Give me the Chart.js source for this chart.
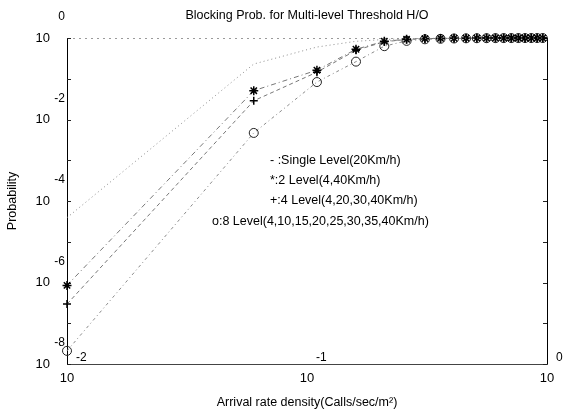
<!DOCTYPE html>
<html><head><meta charset="utf-8">
<script src="https://cdn.jsdelivr.net/npm/chart.js@4.4.0/dist/chart.umd.min.js"></script>
<style>html,body{margin:0;padding:0;background:#fff}#c{display:block}</style>
</head><body>
<canvas id="c" width="569" height="413"></canvas>
<script>
const arrivalRates = [0.01,0.06,0.11,0.16,0.21,0.26,0.31,0.36,0.41,0.46,0.51,0.56,0.61,0.66,0.71,0.76,0.81,0.86,0.91,0.96];
const singleLevel = [3.9e-5,0.23,0.60,0.83,0.92,0.96,0.977,0.986,0.990,0.993,0.995,0.996,0.997,0.998,0.998,0.999,0.999,0.999,0.999,0.999];
const twoLevel    = [8.5e-7,0.051,0.162,0.53,0.83,0.93,0.966,0.977,0.985,0.990,0.993,0.995,0.996,0.997,0.998,0.998,0.999,0.999,0.999,0.999];
const fourLevel   = [2.95e-7,0.0288,0.145,0.50,0.81,0.92,0.962,0.975,0.984,0.989,0.992,0.994,0.996,0.997,0.997,0.998,0.998,0.999,0.999,0.999];
const eightLevel  = [2.1e-8,0.00468,0.083,0.263,0.63,0.85,0.93,0.955,0.973,0.982,0.987,0.990,0.993,0.995,0.996,0.997,0.997,0.998,0.998,0.999];
const yTickValues = [1e-8,1e-6,1e-4,1e-2,1];
const yTickExponents = ['-8','-6','-4','-2','0'];
const yMinorTicks = [1e-7,1e-5,1e-3,1e-1];
const xTickValues = [0.01,0.1,1];
const xTickExponents = ['-2','-1','0'];
const seriesNames = ['Single Level(20Km/h)','2 Level(4,40Km/h)','4 Level(4,20,30,40Km/h)','8 Level(4,10,15,20,25,30,35,40Km/h)'];
const legendLines = ['- :Single Level(20Km/h)','*:2 Level(4,40Km/h)','+:4 Level(4,20,30,40Km/h)','o:8 Level(4,10,15,20,25,30,35,40Km/h)'];

const SANS = '"Liberation Sans",Arial,sans-serif';

const pts = arr => arrivalRates.map((x,i)=>({x:x,y:arr[i]}));

const decor = {
  id:'decor',
  beforeDatasetsDraw(chart){
    const ctx = chart.ctx, ca = chart.chartArea, ys = chart.scales.y;
    ctx.save();
    ctx.lineWidth = 1;
    ctx.strokeStyle = '#9a9a9a'; ctx.setLineDash([2,4]);
    ctx.beginPath(); ctx.moveTo(ca.left, ca.top+0.5); ctx.lineTo(ca.right, ca.top+0.5); ctx.stroke();
    ctx.strokeStyle = '#000'; ctx.setLineDash([]);
    ctx.beginPath(); ctx.moveTo(ca.right+0.5, ca.top); ctx.lineTo(ca.right+0.5, ca.bottom); ctx.stroke();
    ctx.strokeStyle = '#222';
    yTickValues.concat(yMinorTicks).forEach(v=>{
      const p = Math.round(ys.getPixelForValue(v))+0.5;
      ctx.beginPath(); ctx.moveTo(ca.left, p); ctx.lineTo(ca.left+4, p); ctx.stroke();
      ctx.beginPath(); ctx.moveTo(ca.right, p); ctx.lineTo(ca.right-4, p); ctx.stroke();
    });
    ctx.restore();
  },
  afterDraw(chart){
    const ctx = chart.ctx, ca = chart.chartArea, ys = chart.scales.y, xs = chart.scales.x;
    ctx.save();
    ctx.fillStyle = '#000';
    ctx.font = '12px ' + SANS;
    ctx.textBaseline = 'middle';
    ctx.textAlign = 'right';
    yTickValues.forEach((v,i)=>ctx.fillText(yTickExponents[i], ca.left-2, ys.getPixelForValue(v)-21));
    ctx.textAlign = 'left';
    xTickValues.forEach((v,i)=>ctx.fillText(xTickExponents[i], xs.getPixelForValue(v)+9, ca.bottom-6));
    ctx.font = '12.5px ' + SANS;
    const lx = [270,270,270,212], ly = [161,181,201,222];
    legendLines.forEach((t,i)=>ctx.fillText(t, lx[i], ly[i]));
    ctx.restore();
  }
};

new Chart(document.getElementById('c'), {
  type:'scatter',
  data:{datasets:[
    {label:seriesNames[0], data:pts(singleLevel), showLine:true, borderColor:'#8a8a8a', borderWidth:1, borderDash:[1,3], pointRadius:0, clip:false},
    {label:seriesNames[1], data:pts(twoLevel), showLine:true, borderColor:'#777', borderWidth:1, borderDash:[5,3,1,3], pointStyle:'star', pointRadius:4.5, pointBorderColor:'#000', pointBorderWidth:1.5, pointBackgroundColor:'#000', clip:false},
    {label:seriesNames[2], data:pts(fourLevel), showLine:true, borderColor:'#777', borderWidth:1, borderDash:[4,3], pointStyle:'cross', pointRadius:4, pointBorderColor:'#000', pointBorderWidth:1.5, pointBackgroundColor:'#000', clip:false},
    {label:seriesNames[3], data:pts(eightLevel), showLine:true, borderColor:'#8a8a8a', borderWidth:1, borderDash:[3,3,1,3], pointStyle:'circle', pointRadius:4.5, pointBorderColor:'#222', pointBorderWidth:1, pointBackgroundColor:'rgba(0,0,0,0)', clip:false}
  ]},
  options:{
    responsive:false, animation:false, devicePixelRatio:1,
    layout:{padding:{left:0,right:22,top:0,bottom:0}},
    plugins:{
      legend:{display:false},
      tooltip:{enabled:false},
      title:{display:true, fullSize:false, text:'Blocking Prob. for Multi-level Threshold H/O', color:'#000',
        font:{family:SANS, size:12.5, weight:'normal', lineHeight:1.2}, padding:{top:8,bottom:15}}
    },
    scales:{
      x:{type:'logarithmic', min:0.01, max:1,
        afterBuildTicks:s=>{s.ticks = xTickValues.map(v=>({value:v}));},
        afterFit:s=>{s.height = 49;},
        ticks:{callback:()=> '10', autoSkip:false, maxRotation:0, minRotation:0, padding:7, color:'#000', font:{family:SANS,size:13}},
        grid:{display:false, drawTicks:false},
        border:{display:true, color:'#444', width:1, dash:[7,2,2,2]},
        title:{display:true, text:'Arrival rate density(Calls/sec/m²)', color:'#000', font:{family:SANS,size:12.5,weight:'normal',lineHeight:1.2}, padding:{top:0,bottom:3}}
      },
      y:{type:'logarithmic', min:1e-8, max:1,
        afterBuildTicks:s=>{s.ticks = yTickValues.map(v=>({value:v}));},
        afterFit:s=>{s.width = 67;},
        ticks:{callback:()=> '10', autoSkip:false, padding:17, color:'#000', font:{family:SANS,size:13}},
        grid:{display:false, drawTicks:false},
        border:{display:true, color:'#000', width:1},
        title:{display:true, text:'Probability', color:'#000', font:{family:SANS,size:12.5,weight:'normal',lineHeight:1.2}, padding:{top:5,bottom:0}}
      }
    }
  },
  plugins:[decor]
});
</script>
</body></html>
